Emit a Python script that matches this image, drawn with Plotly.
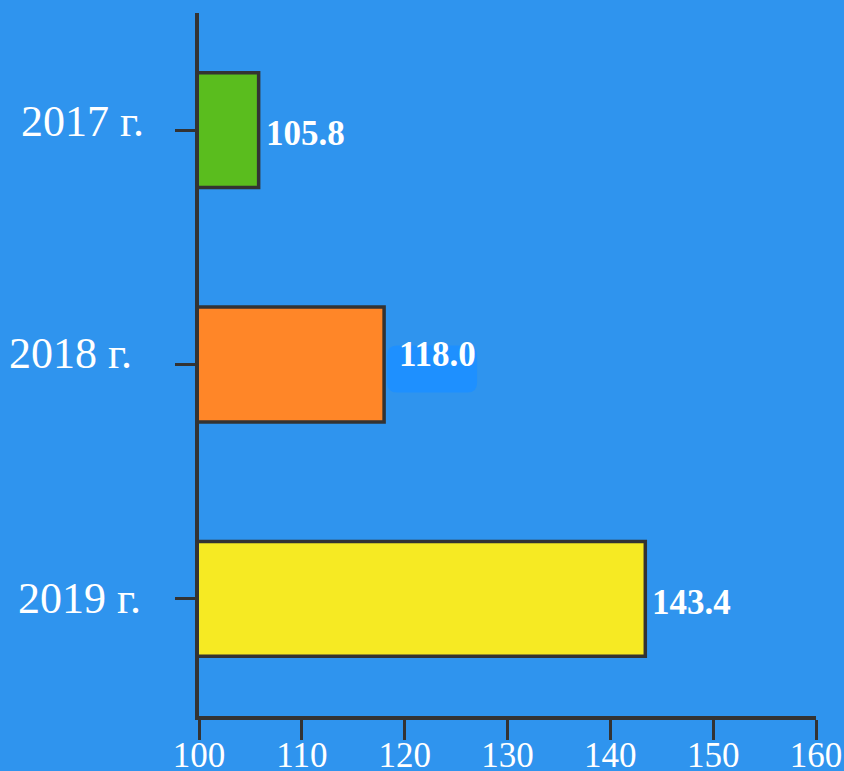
import plotly.graph_objects as go

categories = ["2017 г.", "2018 г.", "2019 г."]
values = [105.8, 118.0, 143.4]
bar_colors = ["#5ABD1E", "#FF8628", "#F6EA23"]
x_ticks = [100, 110, 120, 130, 140, 150, 160]

BG = "#2F94EE"
DARK = "#333333"
BOX = "#1E90FF"

fig = go.Figure()
fig.add_trace(go.Bar(
    x=values, y=categories, orientation="h",
    marker=dict(color=bar_colors, line=dict(color=DARK, width=3.5)),
    width=0.49, hoverinfo="skip",
))

# rounded highlight box behind the 2018 value label (pixel offsets from the bar end)
r = 10
x0, x1, yb, yt = 3, 93, -28, 19
path = (f"M {x0+r},{yb} L {x1-r},{yb} Q {x1},{yb} {x1},{yb+r} "
        f"L {x1},{yt-r} Q {x1},{yt} {x1-r},{yt} L {x0+r},{yt} "
        f"Q {x0},{yt} {x0},{yt-r} L {x0},{yb+r} Q {x0},{yb} {x0+r},{yb} Z")
fig.add_shape(type="path", xref="x", yref="y", xsizemode="pixel", ysizemode="pixel",
              xanchor=values[1], yanchor=categories[1], path=path,
              fillcolor=BOX, line=dict(width=0), layer="above")

label_xshift = [5, 13, 5]
label_yshift = [-3.5, 10, -3.5]
for i, (c, v) in enumerate(zip(categories, values)):
    fig.add_annotation(
        x=v, y=c, xref="x", yref="y", xanchor="left", yanchor="middle",
        text=f"{v:.1f}", showarrow=False,
        xshift=label_xshift[i], yshift=label_yshift[i],
        font=dict(family="Liberation Serif", size=35, color="white", weight="bold"),
    )

# category labels
cat_xshift = [-53, -65, -56]
cat_yshift = [9, 11, 0]
for i, c in enumerate(categories):
    fig.add_annotation(
        x=0, y=c, xref="paper", yref="y", xanchor="right", yanchor="middle",
        text=c, showarrow=False, xshift=cat_xshift[i], yshift=cat_yshift[i],
        font=dict(family="Liberation Serif", size=44, color="white"),
    )

fig.update_layout(
    width=844, height=771, autosize=False,
    paper_bgcolor=BG, plot_bgcolor=BG,
    margin=dict(l=199, r=28, t=13, b=55, autoexpand=False),
    showlegend=False,
)
fig.update_xaxes(
    range=[100, 160], tickvals=x_ticks, showgrid=False, zeroline=False,
    showline=True, linecolor=DARK, linewidth=3.5,
    ticks="outside", ticklen=20, tickwidth=2.5, tickcolor=DARK,
    ticklabelstandoff=-15, automargin=False,
    tickfont=dict(family="Liberation Serif", size=35, color="white"),
    fixedrange=True,
)
fig.update_yaxes(
    autorange="reversed", showgrid=False, zeroline=False,
    showline=True, linecolor=DARK, linewidth=3.5,
    ticks="outside", ticklen=20, tickwidth=2.5, tickcolor=DARK,
    showticklabels=False, automargin=False,
    fixedrange=True,
)

fig.write_html("out.html", config={"displayModeBar": False},
               post_script="document.body.style.margin='0';document.body.style.background='" + BG + "';")
